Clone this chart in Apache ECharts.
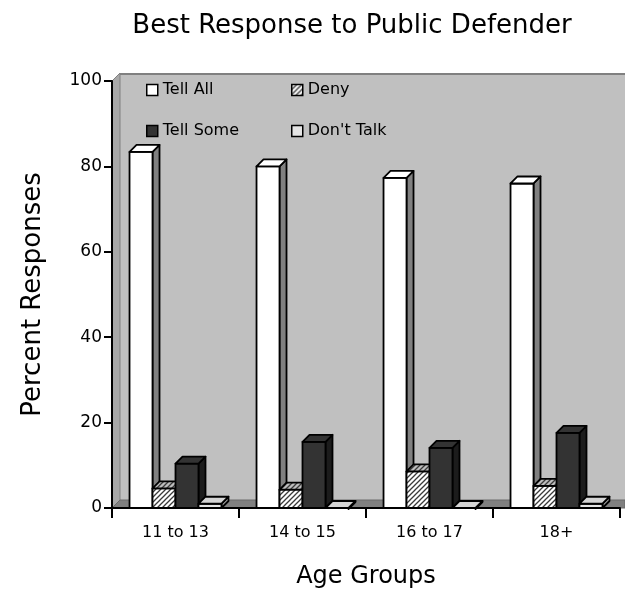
<!DOCTYPE html>
<html><head><meta charset="utf-8">
<script src="https://cdn.jsdelivr.net/npm/echarts@6/dist/echarts.min.js"></script>
<style>html,body{margin:0;padding:0;background:#fff}#c{width:625px;height:600px}</style>
</head><body><div id="c"></div>
<script>
const categories = ['11 to 13', '14 to 15', '16 to 17', '18+'];
const seriesNames = ['Tell All', 'Deny', 'Tell Some', "Don't Talk"];
const tellAll = [83.4, 80.0, 77.3, 76.0];
const deny = [4.6, 4.3, 8.6, 5.2];
const tellSome = [10.4, 15.5, 14.1, 17.6];
const dontTalk = [1.0, 0.0, 0.0, 1.0];
const yTicks = { min: 0, max: 100, interval: 20 };

const FONT = 'DejaVu Sans';

function hatch(bg) {
  const c = document.createElement('canvas');
  c.width = 5; c.height = 5;
  const g = c.getContext('2d');
  g.fillStyle = bg; g.fillRect(0, 0, 5, 5);
  g.strokeStyle = '#3a3a3a'; g.lineWidth = 1.3;
  g.beginPath();
  g.moveTo(-1, 6); g.lineTo(6, -1);
  g.moveTo(-1, 1); g.lineTo(1, -1);
  g.moveTo(4, 6); g.lineTo(6, 4);
  g.stroke();
  return { image: c, repeat: 'repeat' };
}
const denyFront = hatch('#ffffff');
const denyTop = hatch('#bdbdbd');

const faceColors = [
  { front: '#ffffff', top: '#ffffff', side: '#808080' },
  { front: denyFront, top: denyTop, side: denyTop },
  { front: '#333333', top: '#333333', side: '#1c1c1c' },
  { front: '#e4e4e4', top: '#d4d4d4', side: '#a0a0a0' }
];
const legendColors = ['#ffffff', denyFront, '#333333', '#e4e4e4'];

const allValues = [tellAll, deny, tellSome, dontTalk];

function renderBar(params, api) {
  const s = params.seriesIndex;
  const i = api.value(0), v = api.value(1);
  const base = api.coord([i, 0]);
  const top = api.coord([i, v]);
  const band = api.size([1, 0])[0];
  const bw = band * 0.181;
  const d = 7;
  const x0 = base[0] - 2 * bw + s * bw;
  const x1 = x0 + bw;
  const y0 = base[1], yt = top[1];
  const fc = faceColors[s];
  const st = { stroke: '#000', lineWidth: 1.8, lineJoin: 'round' };
  const kids = [];
  if (y0 - yt > 0.5) {
    kids.push({ type: 'polygon', shape: { points: [[x1, yt], [x1 + d, yt - d], [x1 + d, y0 - d], [x1, y0]] }, style: Object.assign({ fill: fc.side }, st) });
    kids.push({ type: 'rect', shape: { x: x0, y: yt, width: bw, height: y0 - yt }, style: Object.assign({ fill: fc.front }, st) });
  } else {
    kids.push({ type: 'polygon', shape: { points: [[x1, yt], [x1 + d, yt - d], [x1 + d, yt - d + 1], [x1, yt + 1]] }, style: Object.assign({ fill: fc.side }, st) });
  }
  kids.push({ type: 'polygon', shape: { points: [[x0, yt], [x0 + d, yt - d], [x1 + d, yt - d], [x1, yt]] }, style: Object.assign({ fill: fc.top }, st) });
  return { type: 'group', children: kids };
}

const chart = echarts.init(document.getElementById('c'), null, { renderer: 'canvas' });

const series = seriesNames.map((name, s) => ({
  name: name,
  type: 'custom',
  renderItem: renderBar,
  z: 5,
  itemStyle: { color: legendColors[s], borderColor: '#000', borderWidth: 1 },
  encode: { x: 0, y: 1 },
  data: allValues[s].map((v, i) => [i, v])
}));

const legendText = { fontFamily: FONT, fontSize: 16, color: '#000' };
function legendItem(s) {
  return { name: seriesNames[s], icon: 'rect', itemStyle: { color: legendColors[s], borderColor: '#000', borderWidth: 1.5 } };
}

chart.setOption({
  animation: false,
  backgroundColor: '#ffffff',
  title: {
    text: 'Best Response to Public Defender',
    left: 347, textAlign: 'center', top: 8,
    textStyle: { fontFamily: FONT, fontSize: 26, fontWeight: 'normal', color: '#000' }
  },
  legend: [
    { orient: 'vertical', left: 141, top: 77, itemWidth: 11, itemHeight: 11, itemGap: 25, selectedMode: false, textStyle: legendText, data: [legendItem(0), legendItem(2)] },
    { orient: 'vertical', left: 286, top: 77, itemWidth: 11, itemHeight: 11, itemGap: 25, selectedMode: false, textStyle: legendText, data: [legendItem(1), legendItem(3)] }
  ],
  grid: { left: 112, right: 5, top: 81, bottom: 92 },
  xAxis: {
    type: 'category', data: categories, boundaryGap: true,
    name: 'Age Groups', nameLocation: 'middle', nameGap: 57,
    nameTextStyle: { fontFamily: FONT, fontSize: 24, fontWeight: 'normal', color: '#000' },
    axisLine: { lineStyle: { color: '#000', width: 2 } },
    axisTick: { show: true, alignWithLabel: false, length: 10, lineStyle: { color: '#000', width: 2 } },
    axisLabel: { fontFamily: FONT, fontSize: 16, color: '#000', margin: 17 },
    splitLine: { show: false }
  },
  yAxis: {
    type: 'value', min: yTicks.min, max: yTicks.max, interval: yTicks.interval,
    name: 'Percent Responses', nameLocation: 'middle', nameGap: 66, nameRotate: 90,
    nameTextStyle: { fontFamily: FONT, fontSize: 26, fontWeight: 'normal', color: '#000' },
    axisLine: { show: true, lineStyle: { color: '#000', width: 2 } },
    axisTick: { show: true, length: 8, lineStyle: { color: '#000', width: 2 } },
    axisLabel: { fontFamily: FONT, fontSize: 17, color: '#000', margin: 10 },
    splitLine: { show: false }
  },
  series: series
});

// 3D walls (decoration) placed from axis pixel positions
const p00 = chart.convertToPixel({ gridIndex: 0 }, [0, 0]);
const band = chart.getModel().getComponent('xAxis', 0).axis.getBandWidth();
const xl = p00[0] - band / 2;
const yb = chart.convertToPixel({ yAxisIndex: 0 }, 0);
const yt = chart.convertToPixel({ yAxisIndex: 0 }, 100);
const d = 8;
chart.setOption({
  graphic: [
    { type: 'rect', z: -10, shape: { x: xl + d, y: yt - d, width: 625 - xl - d, height: yb - yt }, style: { fill: '#c0c0c0' } },
    { type: 'line', z: -9, shape: { x1: xl + d, y1: yt - d + 1, x2: 625, y2: yt - d + 1 }, style: { stroke: '#808080', lineWidth: 2 } },
    { type: 'polygon', z: -9, shape: { points: [[xl, yt], [xl + d, yt - d], [xl + d, yb - d], [xl, yb]] }, style: { fill: '#a8a8a8', stroke: '#808080', lineWidth: 1 } },
    { type: 'polygon', z: -9, shape: { points: [[xl, yb], [xl + d, yb - d], [625, yb - d], [625, yb]] }, style: { fill: '#808080', stroke: '#6a6a6a', lineWidth: 1 } }
  ]
});
</script>
</body></html>
